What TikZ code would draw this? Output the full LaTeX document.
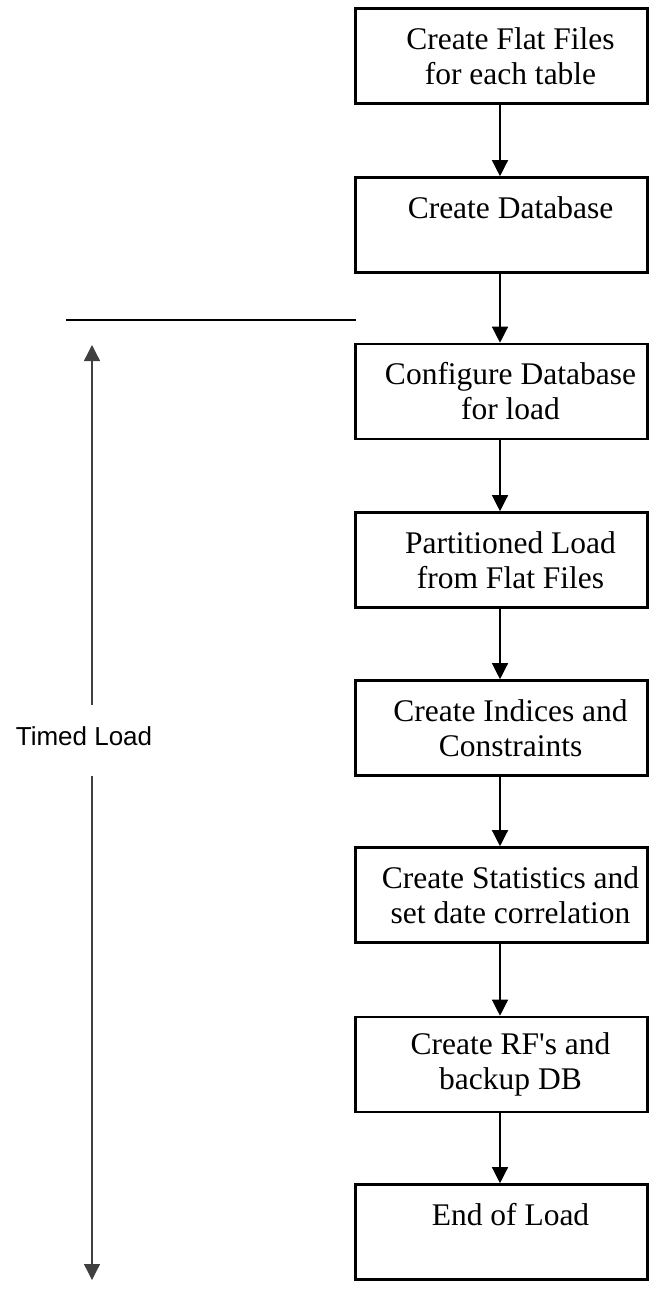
\documentclass[tikz,border=0pt]{standalone}
\usepackage{fontspec}
\setmainfont{Liberation Serif}[Ligatures=TeXOff]
\newfontfamily\arialfont{Liberation Sans}
\usetikzlibrary{arrows.meta}
\begin{document}
\begin{tikzpicture}[x=1pt,y=-1pt,
  stepbox/.style={draw, line width=2.6pt, minimum width=292pt, minimum height=95pt, inner sep=0pt},
  steptext/.style={align=center, font=\fontsize{31.5}{35}\selectfont, inner sep=0pt},
  flow/.style={-{Triangle[length=16pt,width=16pt]}, line width=1.3pt},
  sideflow/.style={-{Triangle[length=16pt,width=16pt]}, line width=1.3pt, draw=black!75},
]
\useasboundingbox (0,0) rectangle (658,1300);
\foreach \n/\y in {1/56,2/225,3/391.5,4/560,5/728,6/895,7/1064.5,8/1232}
  \node[stepbox] (b\n) at (501.5,\y) {};
\node[steptext] (t1) at ([xshift=9pt]b1.center) {Create Flat Files\\for each table};
\node[steptext] (t2) at ([xshift=9pt]b2.center) {Create Database\\\mbox{}};
\node[steptext] (t3) at ([xshift=9pt]b3.center) {Configure Database\\for load};
\node[steptext] (t4) at ([xshift=9pt]b4.center) {Partitioned Load\\from Flat Files};
\node[steptext] (t5) at ([xshift=9pt]b5.center) {Create Indices and\\Constraints};
\node[steptext] (t6) at ([xshift=9pt]b6.center) {Create Statistics and\\set date correlation};
\node[steptext] (t7) at ([xshift=9pt]b7.center) {Create RF's and\\backup DB};
\node[steptext] (t8) at ([xshift=9pt]b8.center) {End of Load\\\mbox{}};
\foreach \a/\b in {b1/b2,b2/b3,b3/b4,b4/b5,b5/b6,b6/b7,b7/b8}
  \draw[flow] (\a.south -| 500,0) -- (\b.north -| 500,0);
\coordinate (hl) at (66,320);
\coordinate (hr) at (356,320);
\draw[line width=2pt] (hl) -- (hr);
\node[font=\arialfont\fontsize{26}{30}\selectfont, inner sep=0pt] (tl) at (84,736) {Timed Load};
\coordinate (gtop) at (92,705);
\coordinate (gbot) at (92,776);
\coordinate (ltop) at (92,345);
\coordinate (lbot) at (92,1280);
\draw[sideflow] (gtop) -- (ltop);
\draw[sideflow] (gbot) -- (lbot);
\end{tikzpicture}
\end{document}
